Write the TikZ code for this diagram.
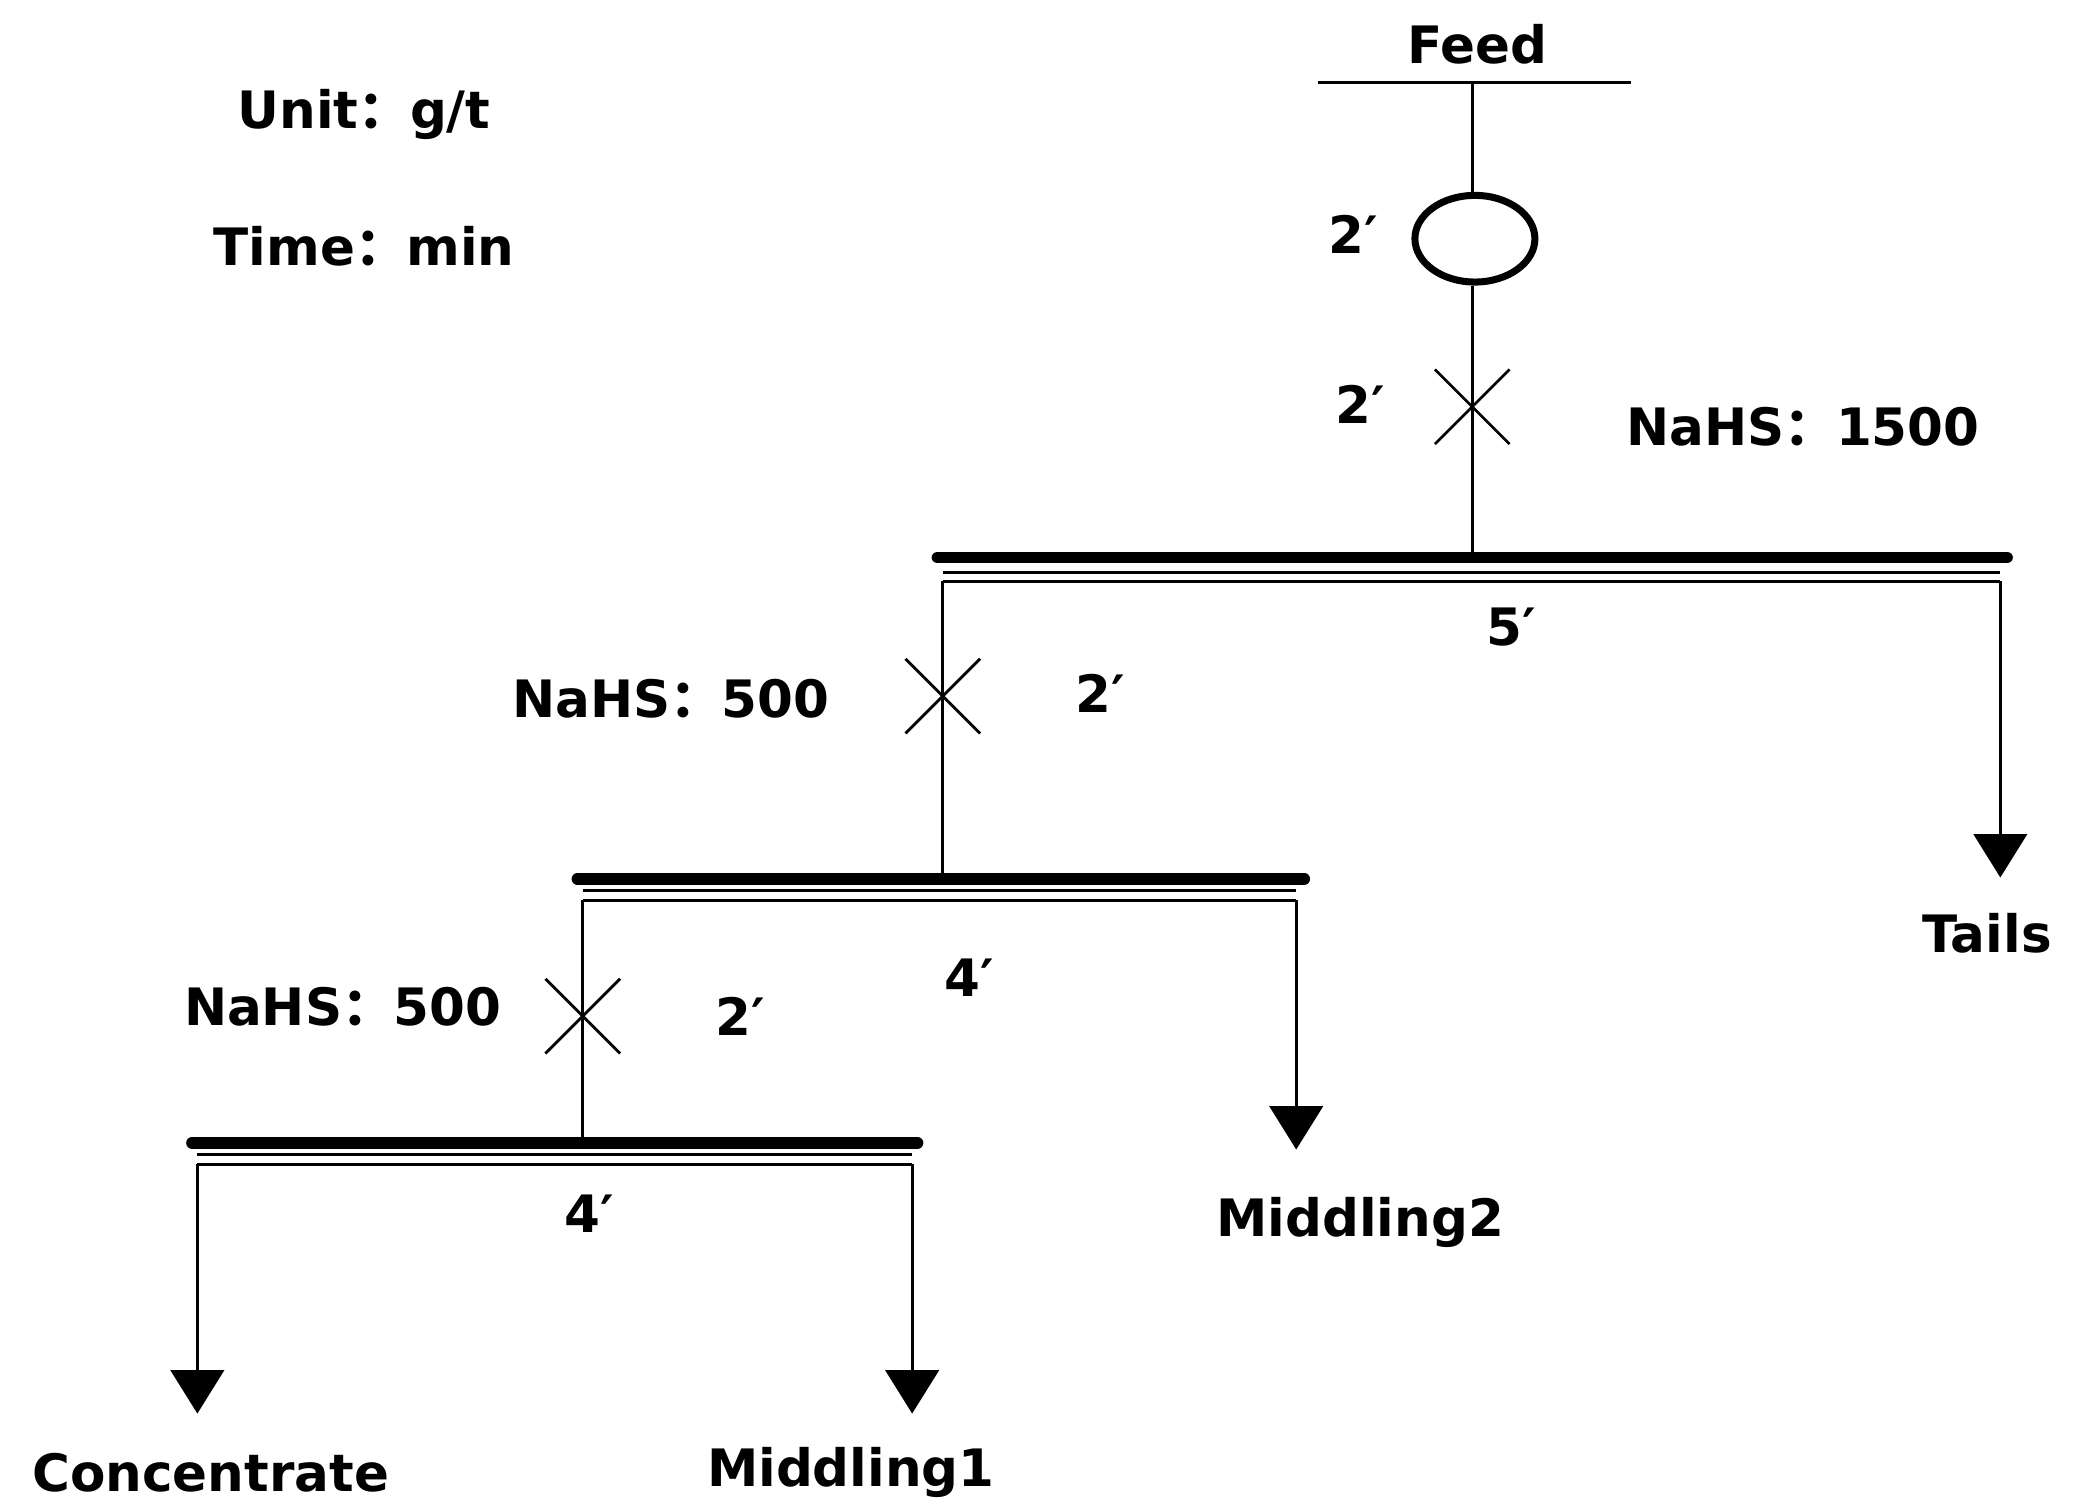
\documentclass[tikz,border=0pt]{standalone}
\usepackage{fontspec}
\setmainfont{DejaVu Sans}
\newfontfamily\cjk{Noto Sans CJK SC}
\usetikzlibrary{arrows.meta,positioning,calc,shapes.geometric}
\newcommand{\col}{{\cjk ：}}
\begin{document}
\begin{tikzpicture}[
    x=0.02cm, y=-0.02cm,
    lbl/.style={font=\fontsize{22}{26}\selectfont\bfseries, inner sep=0pt},
    pipe/.style={line width=1.2pt},
    flowout/.style={pipe, -{Triangle[length=0.65cm,width=0.8cm]}},
    cell/.style={line width=5pt, line cap=round},
  ]
  \useasboundingbox (0,0) rectangle (1559,1133);
  % header
  \node[lbl] (unit) at (273,86) {Unit\col g/t};
  \node[lbl] (time) at (273,185) {Time\col min};
  % feed
  \node[lbl] (feed) at (1108,33) {Feed};
  \coordinate (fl) at (988,62);
  \coordinate (fr) at (1223,62);
  \coordinate (ftop) at (1104,62);
  \draw[pipe] (fl) -- (fr);
  \node[draw, line width=3pt, ellipse, minimum width=1.8cm, minimum height=1.3cm, inner sep=0pt] (cond) at (1106,179) {};
  \draw[pipe] (ftop) -- (ftop |- cond.north);
  \node[lbl] at (1015,176) {2′};
  % rougher bar
  \coordinate (b1l) at (703,418);
  \coordinate (b1r) at (1505,418);
  \coordinate (b1c) at (1104,418);
  \draw[pipe] (cond.south -| b1c) -- (b1c);
  \draw[pipe] (1076,277) -- (1132,333) (1076,333) -- (1132,277);
  \node[lbl] at (1020,303) {2′};
  \node[lbl] at (1352,320) {NaHS\col 1500};
  \draw[cell] (b1l) -- (b1r);
  \draw[pipe] (707,429) -- (1500,429) (707,436) -- (1500,436);
  \node[lbl] at (1133,470) {5′};
  \coordinate (tails) at (1500,658);
  \draw[flowout] (1500,436) -- (tails);
  \node[lbl] at (1490,700) {Tails};
  % cleaner 1
  \coordinate (b2l) at (433,659);
  \coordinate (b2r) at (978,659);
  \draw[pipe] (707,436) -- (707,659);
  \draw[pipe] (679,494) -- (735,550) (679,550) -- (735,494);
  \node[lbl] at (503,524) {NaHS\col 500};
  \node[lbl] at (825,520) {2′};
  \draw[cell] (b2l) -- (b2r);
  \draw[pipe] (437,668) -- (972,668) (437,675) -- (972,675);
  \node[lbl] at (727,733) {4′};
  \coordinate (mid2) at (972,862);
  \draw[flowout] (972,675) -- (mid2);
  \node[lbl] at (1020,917) {Middling2};
  % cleaner 2
  \coordinate (b3l) at (144,857);
  \coordinate (b3r) at (688,857);
  \draw[pipe] (437,675) -- (437,857);
  \draw[pipe] (409,734) -- (465,790) (409,790) -- (465,734);
  \node[lbl] at (257,755) {NaHS\col 500};
  \node[lbl] at (555,762) {2′};
  \draw[cell] (b3l) -- (b3r);
  \draw[pipe] (148,866) -- (684,866) (148,873) -- (684,873);
  \node[lbl] at (442,910) {4′};
  \coordinate (conc) at (148,1060);
  \coordinate (mid1) at (684,1060);
  \draw[flowout] (148,873) -- (conc);
  \draw[flowout] (684,873) -- (mid1);
  \node[lbl] at (158,1104) {Concentrate};
  \node[lbl] at (638,1104) {Middling1};
\end{tikzpicture}
\end{document}
